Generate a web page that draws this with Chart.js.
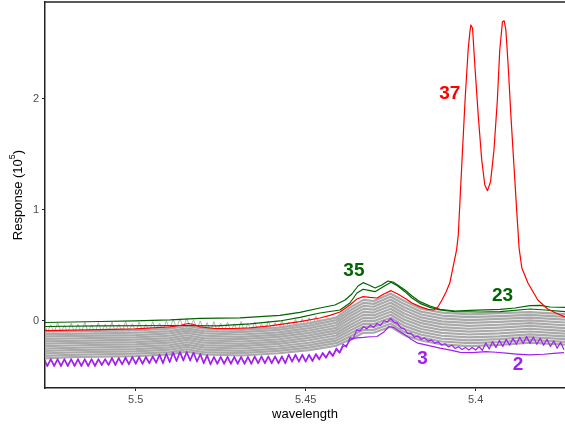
<!DOCTYPE html>
<html>
<head>
<meta charset="utf-8">
<script src="https://cdn.jsdelivr.net/npm/chart.js@4"></script>
<style>
  html, body { margin: 0; padding: 0; background: #fff; }
</style>
</head>
<body>
<canvas id="chart" width="565" height="427"></canvas>
<script>
// x ticks / y ticks
const xTicks = [5.5, 5.45, 5.4];
const xTickLabels = ['5.5', '5.45', '5.4'];
const yTicks = [0, 1, 2];
const yTickLabels = ['0', '1', '2'];

// grey background spectra, sampled at greyWl
const greyWl = [5.527, 5.519, 5.511, 5.500, 5.490, 5.485, 5.480, 5.469, 5.458, 5.449, 5.441,
                5.437, 5.433, 5.430, 5.425, 5.421, 5.416, 5.410, 5.402, 5.393, 5.384, 5.373];
const greyResponses = [
  [-0.095, -0.095, -0.09, -0.085, -0.07, -0.045, -0.07, -0.08, -0.06, -0.02, 0.03, 0.12, 0.19, 0.18, 0.245, 0.18, 0.11, 0.075, 0.06, 0.07, 0.08, 0.06],
  [-0.117, -0.116, -0.111, -0.106, -0.091, -0.066, -0.091, -0.101, -0.081, -0.042, 0.007, 0.094, 0.163, 0.154, 0.218, 0.152, 0.084, 0.049, 0.034, 0.044, 0.055, 0.035],
  [-0.139, -0.137, -0.132, -0.127, -0.112, -0.087, -0.112, -0.122, -0.102, -0.064, -0.016, 0.068, 0.136, 0.128, 0.191, 0.124, 0.058, 0.023, 0.008, 0.018, 0.03, 0.01],
  [-0.161, -0.158, -0.153, -0.148, -0.133, -0.108, -0.133, -0.143, -0.123, -0.086, -0.039, 0.042, 0.109, 0.102, 0.164, 0.096, 0.032, -0.003, -0.018, -0.008, 0.005, -0.015],
  [-0.183, -0.179, -0.174, -0.169, -0.154, -0.129, -0.154, -0.164, -0.144, -0.108, -0.062, 0.016, 0.082, 0.076, 0.137, 0.068, 0.006, -0.029, -0.044, -0.034, -0.02, -0.04],
  [-0.205, -0.2, -0.195, -0.19, -0.175, -0.15, -0.175, -0.185, -0.165, -0.13, -0.085, -0.01, 0.055, 0.05, 0.11, 0.04, -0.02, -0.055, -0.07, -0.06, -0.045, -0.065],
  [-0.227, -0.221, -0.216, -0.211, -0.196, -0.171, -0.196, -0.206, -0.186, -0.152, -0.108, -0.036, 0.028, 0.024, 0.083, 0.012, -0.046, -0.081, -0.096, -0.086, -0.07, -0.09],
  [-0.249, -0.242, -0.237, -0.232, -0.217, -0.192, -0.217, -0.227, -0.207, -0.174, -0.131, -0.062, 0.001, -0.002, 0.056, -0.016, -0.072, -0.107, -0.122, -0.112, -0.095, -0.115],
  [-0.271, -0.263, -0.258, -0.253, -0.238, -0.213, -0.238, -0.248, -0.228, -0.196, -0.154, -0.088, -0.026, -0.028, 0.029, -0.044, -0.098, -0.133, -0.148, -0.138, -0.12, -0.14],
  [-0.293, -0.284, -0.279, -0.274, -0.259, -0.234, -0.259, -0.269, -0.249, -0.218, -0.177, -0.114, -0.053, -0.054, 0.002, -0.072, -0.124, -0.159, -0.174, -0.164, -0.145, -0.165],
  [-0.315, -0.305, -0.3, -0.295, -0.28, -0.255, -0.28, -0.29, -0.27, -0.24, -0.2, -0.14, -0.08, -0.08, -0.025, -0.1, -0.15, -0.185, -0.2, -0.19, -0.17, -0.19],
  [-0.337, -0.326, -0.321, -0.316, -0.301, -0.276, -0.301, -0.311, -0.291, -0.262, -0.223, -0.166, -0.107, -0.106, -0.052, -0.128, -0.176, -0.211, -0.226, -0.216, -0.195, -0.215]
];
// one noisy grey spectrum whose spikes poke above the grey band on the left
const greyNoisy = [
  [5.527, -0.02], [5.526, -0.10], [5.525, -0.035], [5.524, -0.105], [5.523, -0.015], [5.522, -0.10], [5.521, -0.04],
  [5.520, -0.105], [5.519, -0.02], [5.518, -0.10], [5.517, -0.03], [5.516, -0.105], [5.515, -0.01], [5.514, -0.10],
  [5.513, -0.035], [5.512, -0.105], [5.511, -0.015], [5.510, -0.10], [5.509, -0.03], [5.508, -0.10], [5.507, -0.01],
  [5.506, -0.095], [5.505, -0.03], [5.504, -0.10], [5.503, -0.005], [5.502, -0.095], [5.501, -0.025], [5.500, -0.095],
  [5.499, -0.01], [5.498, -0.09], [5.497, -0.03], [5.496, -0.09], [5.495, -0.005], [5.494, -0.085], [5.493, -0.02],
  [5.492, -0.08], [5.491, 0.0], [5.490, -0.075], [5.489, 0.015], [5.488, -0.065], [5.487, 0.02], [5.486, -0.06],
  [5.485, 0.025], [5.484, -0.06], [5.483, 0.01], [5.482, -0.07], [5.481, 0.0], [5.480, -0.085], [5.479, -0.015],
  [5.478, -0.09], [5.477, -0.005], [5.476, -0.095], [5.475, -0.02], [5.474, -0.10], [5.473, -0.01], [5.472, -0.095],
  [5.471, -0.025], [5.470, -0.10], [5.469, -0.005], [5.468, -0.095], [5.467, -0.02], [5.466, -0.09], [5.465, -0.01],
  [5.464, -0.09], [5.463, -0.025], [5.462, -0.085], [5.461, 0.0], [5.460, -0.085], [5.459, -0.015], [5.458, -0.08],
  [5.457, 0.005], [5.456, -0.075], [5.455, -0.01], [5.454, -0.07], [5.453, 0.015], [5.452, -0.065], [5.451, 0.02],
  [5.450, -0.055], [5.449, 0.03], [5.448, -0.045], [5.447, 0.04], [5.446, -0.03]
];

// highlighted spectra: [wavelength, response (10^5)]
const red37 = [
  [5.5267, -0.087], [5.5105, -0.078], [5.5002, -0.072], [5.4899, -0.054], [5.4870, -0.041], [5.4846, -0.023],
  [5.4829, -0.032], [5.4811, -0.054], [5.4767, -0.068], [5.4714, -0.068], [5.4664, -0.063], [5.4605, -0.045],
  [5.4517, -0.006], [5.4458, 0.027], [5.4429, 0.050], [5.4399, 0.081], [5.4370, 0.144], [5.4349, 0.198],
  [5.4331, 0.219], [5.4311, 0.212], [5.4290, 0.207], [5.4270, 0.243], [5.4249, 0.273], [5.4229, 0.243],
  [5.4208, 0.205], [5.4187, 0.162], [5.4164, 0.129], [5.4140, 0.104], [5.4123, 0.099], [5.4111, 0.126],
  [5.4099, 0.189], [5.4087, 0.261], [5.4076, 0.342], [5.4067, 0.477], [5.4056, 0.640], [5.4051, 0.775],
  [5.4041, 1.390], [5.4031, 1.991], [5.4022, 2.441], [5.4017, 2.600], [5.4014, 2.667], [5.4009, 2.637],
  [5.4002, 2.291], [5.3992, 1.841], [5.3982, 1.450], [5.3973, 1.225], [5.3965, 1.174], [5.3956, 1.255],
  [5.3946, 1.541], [5.3936, 1.991], [5.3929, 2.441], [5.3921, 2.696], [5.3916, 2.705], [5.3911, 2.622],
  [5.3904, 2.291], [5.3896, 1.841], [5.3887, 1.390], [5.3878, 0.940], [5.3872, 0.655], [5.3864, 0.477],
  [5.3846, 0.342], [5.3817, 0.189], [5.3788, 0.108], [5.3764, 0.072], [5.3737, 0.036]
];
const green35 = [
  [5.5267, -0.014], [5.5105, -0.005], [5.5002, 0.000], [5.4899, 0.009], [5.4811, 0.023], [5.4693, 0.027],
  [5.4576, 0.050], [5.4517, 0.077], [5.4458, 0.117], [5.4414, 0.144], [5.4384, 0.189], [5.4364, 0.243],
  [5.4346, 0.315], [5.4331, 0.345], [5.4314, 0.324], [5.4296, 0.297], [5.4276, 0.324], [5.4258, 0.360],
  [5.4243, 0.351], [5.4225, 0.315], [5.4208, 0.279], [5.4187, 0.225], [5.4164, 0.174], [5.4134, 0.135],
  [5.4105, 0.105], [5.4061, 0.090], [5.4017, 0.095], [5.3928, 0.105], [5.3884, 0.117], [5.3840, 0.138],
  [5.3811, 0.140], [5.3781, 0.126], [5.3737, 0.123]
];
const green23 = [
  [5.5267, -0.050], [5.5105, -0.045], [5.4870, -0.041], [5.4761, -0.045], [5.4664, -0.027], [5.4576, 0.000],
  [5.4517, 0.033], [5.4458, 0.072], [5.4399, 0.099], [5.4370, 0.162], [5.4349, 0.252], [5.4331, 0.286],
  [5.4314, 0.275], [5.4296, 0.264], [5.4273, 0.306], [5.4249, 0.349], [5.4229, 0.315], [5.4208, 0.264],
  [5.4187, 0.207], [5.4164, 0.159], [5.4134, 0.122], [5.4105, 0.099], [5.4061, 0.084], [5.3987, 0.081],
  [5.3928, 0.084], [5.3840, 0.108], [5.3796, 0.099], [5.3737, 0.084]
];
const purple3 = [
  [5.527, -0.34], [5.526, -0.40], [5.525, -0.34], [5.524, -0.40], [5.523, -0.34], [5.522, -0.40], [5.521, -0.34],
  [5.520, -0.40], [5.519, -0.34], [5.518, -0.40], [5.517, -0.34], [5.516, -0.40], [5.515, -0.34], [5.514, -0.40],
  [5.513, -0.34], [5.512, -0.40], [5.511, -0.34], [5.510, -0.39], [5.509, -0.34], [5.508, -0.39], [5.507, -0.33],
  [5.506, -0.39], [5.505, -0.33], [5.504, -0.385], [5.503, -0.325], [5.502, -0.385], [5.501, -0.32], [5.500, -0.38],
  [5.499, -0.32], [5.498, -0.38], [5.497, -0.32], [5.496, -0.375], [5.495, -0.315], [5.494, -0.37],
  [5.493, -0.30], [5.492, -0.375], [5.491, -0.29], [5.490, -0.365], [5.489, -0.28], [5.488, -0.355],
  [5.487, -0.275], [5.486, -0.35], [5.485, -0.275], [5.484, -0.35], [5.483, -0.28], [5.482, -0.36],
  [5.481, -0.295], [5.480, -0.375], [5.479, -0.305], [5.478, -0.385],
  [5.477, -0.32], [5.476, -0.38], [5.475, -0.32], [5.474, -0.38], [5.473, -0.32], [5.472, -0.38],
  [5.471, -0.32], [5.470, -0.38], [5.469, -0.32], [5.468, -0.38], [5.467, -0.32], [5.466, -0.38],
  [5.465, -0.315], [5.464, -0.375], [5.463, -0.315], [5.462, -0.375], [5.461, -0.315], [5.460, -0.375],
  [5.459, -0.315], [5.458, -0.375], [5.457, -0.315], [5.456, -0.375], [5.455, -0.30], [5.454, -0.36],
  [5.453, -0.30], [5.452, -0.36], [5.451, -0.30], [5.450, -0.36], [5.449, -0.30], [5.448, -0.355],
  [5.447, -0.295], [5.446, -0.34], [5.445, -0.285], [5.444, -0.325], [5.443, -0.27], [5.442, -0.31],
  [5.441, -0.245], [5.440, -0.28], [5.439, -0.21], [5.438, -0.235], [5.437, -0.15], [5.436, -0.16],
  [5.435, -0.08], [5.434, -0.09], [5.433, -0.05], [5.432, -0.072], [5.431, -0.038], [5.430, -0.057],
  [5.429, -0.023], [5.428, -0.04], [5.427, 0.002], [5.426, -0.008], [5.425, 0.022], [5.424, -0.01],
  [5.423, -0.02], [5.422, -0.062], [5.421, -0.07], [5.420, -0.112], [5.419, -0.11], [5.418, -0.147],
  [5.417, -0.135], [5.416, -0.167], [5.415, -0.152], [5.414, -0.182], [5.413, -0.17], [5.412, -0.2],
  [5.411, -0.188], [5.410, -0.217], [5.409, -0.205], [5.408, -0.234], [5.407, -0.218], [5.406, -0.248],
  [5.405, -0.232], [5.404, -0.258], [5.403, -0.238], [5.402, -0.262], [5.401, -0.24], [5.400, -0.262],
  [5.399, -0.232], [5.398, -0.264], [5.397, -0.198], [5.396, -0.252], [5.395, -0.186], [5.394, -0.24],
  [5.393, -0.175], [5.392, -0.23], [5.391, -0.165], [5.390, -0.219], [5.389, -0.155], [5.388, -0.21],
  [5.387, -0.146], [5.386, -0.203], [5.385, -0.141], [5.384, -0.202], [5.383, -0.145], [5.382, -0.21],
  [5.381, -0.155], [5.380, -0.219], [5.379, -0.165], [5.378, -0.23], [5.377, -0.18], [5.376, -0.246],
  [5.375, -0.192], [5.374, -0.26]
];
const purple2 = [
  [5.527, -0.35], [5.526, -0.41], [5.525, -0.35], [5.524, -0.41], [5.523, -0.35], [5.522, -0.41], [5.521, -0.35],
  [5.520, -0.41], [5.519, -0.35], [5.518, -0.41], [5.517, -0.35], [5.516, -0.41], [5.515, -0.35], [5.514, -0.41],
  [5.513, -0.35], [5.512, -0.41], [5.511, -0.35], [5.510, -0.40], [5.509, -0.35], [5.508, -0.40], [5.507, -0.34],
  [5.506, -0.40], [5.505, -0.34], [5.504, -0.395], [5.503, -0.335], [5.502, -0.395], [5.501, -0.33], [5.500, -0.39],
  [5.499, -0.33], [5.498, -0.39], [5.497, -0.33], [5.496, -0.385], [5.495, -0.325], [5.494, -0.38],
  [5.493, -0.31], [5.492, -0.385], [5.491, -0.30], [5.490, -0.375], [5.489, -0.29], [5.488, -0.365],
  [5.487, -0.285], [5.486, -0.36], [5.485, -0.285], [5.484, -0.36], [5.483, -0.29], [5.482, -0.37],
  [5.481, -0.305], [5.480, -0.385], [5.479, -0.315], [5.478, -0.395],
  [5.477, -0.33], [5.476, -0.39], [5.475, -0.33], [5.474, -0.39], [5.473, -0.33], [5.472, -0.39],
  [5.471, -0.33], [5.470, -0.39], [5.469, -0.33], [5.468, -0.39], [5.467, -0.33], [5.466, -0.39],
  [5.465, -0.325], [5.464, -0.385], [5.463, -0.325], [5.462, -0.385], [5.461, -0.325], [5.460, -0.385],
  [5.459, -0.325], [5.458, -0.385], [5.457, -0.325], [5.456, -0.385], [5.455, -0.31], [5.454, -0.37],
  [5.453, -0.31], [5.452, -0.37], [5.451, -0.31], [5.450, -0.37], [5.449, -0.31], [5.448, -0.365],
  [5.447, -0.305], [5.446, -0.35], [5.445, -0.295], [5.444, -0.335], [5.443, -0.28], [5.442, -0.32],
  [5.441, -0.26], [5.440, -0.29], [5.439, -0.23], [5.438, -0.22], [5.437, -0.175], [5.436, -0.16],
  [5.435, -0.152], [5.433, -0.148], [5.431, -0.142], [5.429, -0.14], [5.427, -0.1], [5.4255, -0.05],
  [5.424, -0.06], [5.423, -0.082], [5.421, -0.12], [5.419, -0.165], [5.417, -0.2], [5.414, -0.22],
  [5.4105, -0.245], [5.407, -0.265], [5.4045, -0.283], [5.401, -0.285], [5.397, -0.276], [5.394, -0.282],
  [5.391, -0.29], [5.388, -0.298], [5.384, -0.306], [5.380, -0.3], [5.377, -0.292], [5.374, -0.285]
];

// text labels placed next to the highlighted spectra
const seriesLabels = [
  { text: '37', wl: 5.4076, value: 2.045, color: '#ff0000' },
  { text: '35', wl: 5.4358, value: 0.453, color: '#006400' },
  { text: '23', wl: 5.3921, value: 0.228, color: '#006400' },
  { text: '3', wl: 5.4156, value: -0.345, color: '#a020f0' },
  { text: '2', wl: 5.3875, value: -0.396, color: '#a020f0' }
];

const toXY = pairs => pairs.map(([x, y]) => ({ x, y }));

const datasets = [
  { data: toXY(red37), borderColor: '#ff0000', borderWidth: 1.2, order: 0 },
  { data: toXY(green35), borderColor: '#006400', borderWidth: 1.2, order: 0 },
  { data: toXY(green23), borderColor: '#006400', borderWidth: 1.2, order: 0 },
  { data: toXY(purple3), borderColor: '#a020f0', borderWidth: 1.2, order: 0 },
  { data: toXY(purple2), borderColor: '#a020f0', borderWidth: 1.2, order: 0 },
  { data: toXY(greyNoisy), borderColor: '#b0b0b0', borderWidth: 1, order: 1 }
];
greyResponses.forEach(vals => {
  datasets.push({
    data: vals.map((v, i) => ({ x: greyWl[i], y: v })),
    borderColor: '#aaaaaa', borderWidth: 2.2, order: 2
  });
});

const FONT = '"Liberation Sans", Arial, Helvetica, sans-serif';

const annotate = {
  id: 'annotate',
  afterDraw(chart) {
    const { ctx, chartArea, scales: { x, y } } = chart;
    ctx.save();
    // frame line along the top
    ctx.strokeStyle = '#222';
    ctx.lineWidth = 1.5;
    ctx.beginPath();
    ctx.moveTo(chartArea.left, chartArea.top);
    ctx.lineTo(chartArea.right, chartArea.top);
    ctx.stroke();

    // number labels
    ctx.font = 'bold 19px ' + FONT;
    ctx.textAlign = 'center';
    ctx.textBaseline = 'middle';
    seriesLabels.forEach(l => {
      ctx.fillStyle = l.color;
      ctx.fillText(l.text, x.getPixelForValue(l.wl), y.getPixelForValue(l.value));
    });

    // axis titles
    ctx.fillStyle = '#000';
    ctx.font = '13px ' + FONT;
    ctx.fillText('wavelength', (chartArea.left + chartArea.right) / 2, 414);

    ctx.translate(18, (chartArea.top + chartArea.bottom) / 2);
    ctx.rotate(-Math.PI / 2);
    const main = 'Response (10';
    ctx.font = '13px ' + FONT;
    const w1 = ctx.measureText(main).width;
    const w3 = ctx.measureText(')').width;
    ctx.font = '9px ' + FONT;
    const w2 = ctx.measureText('5').width;
    const start = -(w1 + w2 + w3) / 2;
    ctx.textAlign = 'left';
    ctx.font = '13px ' + FONT;
    ctx.fillText(main, start, 0);
    ctx.font = '9px ' + FONT;
    ctx.fillText('5', start + w1, -5);
    ctx.font = '13px ' + FONT;
    ctx.fillText(')', start + w1 + w2, 0);
    ctx.restore();
  }
};

new Chart(document.getElementById('chart').getContext('2d'), {
  type: 'line',
  data: { datasets },
  plugins: [annotate],
  options: {
    responsive: false,
    animation: false,
    layout: { padding: { top: 2, right: 0, left: 0, bottom: 0 } },
    plugins: { legend: { display: false }, tooltip: { enabled: false } },
    elements: { point: { radius: 0 }, line: { tension: 0, borderJoinStyle: 'round' } },
    scales: {
      x: {
        type: 'linear',
        reverse: true,
        min: 5.3737,
        max: 5.5267,
        afterBuildTicks: s => { s.ticks = xTicks.map(v => ({ value: v })); },
        afterFit: s => { s.height = 39; s.paddingLeft = 0; s.paddingRight = 0; },
        grid: { drawOnChartArea: false, drawTicks: true, tickLength: 3, color: '#222' },
        border: { display: true, color: '#222', width: 1.5 },
        ticks: {
          color: '#4d4d4d', padding: 2, maxRotation: 0,
          font: { family: FONT, size: 11 },
          callback: (v, i) => xTickLabels[i]
        }
      },
      y: {
        type: 'linear',
        min: -0.604,
        max: 2.874,
        afterBuildTicks: s => { s.ticks = yTicks.map(v => ({ value: v })); },
        afterFit: s => { s.width = 45; s.paddingTop = 0; s.paddingBottom = 0; },
        grid: { drawOnChartArea: false, drawTicks: true, tickLength: 3, color: '#222' },
        border: { display: true, color: '#222', width: 1.5 },
        ticks: {
          color: '#4d4d4d', padding: 3,
          font: { family: FONT, size: 11 },
          callback: (v, i) => yTickLabels[i]
        }
      }
    }
  }
});
</script>
</body>
</html>
